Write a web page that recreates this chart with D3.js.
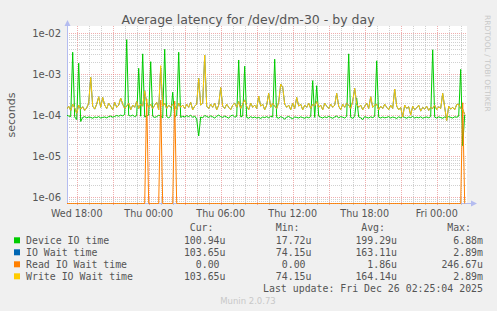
<!DOCTYPE html>
<html><head><meta charset="utf-8">
<script src="https://cdn.jsdelivr.net/npm/d3@7"></script>
<style>
html,body{margin:0;padding:0;background:#f0f0f0;}
svg{display:block;}
text{white-space:pre;}
</style></head><body>
<svg id="chart" width="497" height="311"></svg>
<script>
// ---------- data ----------
const titleText = "Average latency for /dev/dm-30 - by day";
const seriesNames = ["Device IO time", "IO Wait time", "Read IO Wait time", "Write IO Wait time"];
const seriesColors = ["#00cc00", "#0066b3", "#ff8000", "#ffcc00"];
const curLabels = ["100.94u", "103.65u", "0.00 ", "103.65u"];
const minLabels = ["17.72u", "74.15u", "0.00 ", "74.15u"];
const avgLabels = ["199.29u", "163.11u", "1.86u", "164.14u"];
const maxLabels = ["6.88m", "2.89m", "246.67u", "2.89m"];
const yTickLabels = ["1e-06", "1e-05", "1e-04", "1e-03", "1e-02"];
const yTickValues = [1e-6, 1e-5, 1e-4, 1e-3, 1e-2];
const lastUpdate = "Last update: Fri Dec 26 02:25:04 2025";
const footer = "Munin 2.0.73";
const watermark = "RRDTOOL / TOBI OETIKER";

// samples every 10 minutes starting Wed 2025-12-24 17:10 (UTC-less local clock), values in microseconds
const startTime = Date.UTC(2025, 11, 24, 17, 10);
const stepMinutes = 10;

const deviceIO = [
 100, 95, 92, 3400, 90, 78, 1840, 70, 88, 92, 86, 90, 88, 84, 90, 87, 92, 85, 88, 90,
 86, 92, 95, 89, 93, 98, 94, 100, 96, 104, 6880, 98, 95, 100, 92, 97, 1380, 94, 3100, 90,
 96, 100, 2000, 94, 88, 92, 99, 95, 86, 4000, 92, 85, 96, 360, 90, 98, 3400, 88, 94, 90,
 97, 92, 100, 88, 95, 80, 31, 90, 86, 98, 93, 88, 96, 91, 85, 94, 100, 92, 88, 95,
 90, 84, 96, 100, 89, 93, 2200, 91, 95, 1550, 88, 84, 92, 86, 90, 85, 88, 83, 90, 87,
 92, 86, 94, 90, 2300, 88, 84, 92, 87, 80, 89, 93, 86, 82, 90, 88, 85, 91, 87, 84,
 90, 86, 92, 690, 88, 520, 94, 89, 85, 91, 87, 93, 88, 84, 90, 95, 86, 92, 89, 85,
 93, 3100, 88, 84, 92, 260, 90, 86, 78, 92, 88, 85, 91, 87, 93, 2100, 89, 85, 90, 86,
 88, 92, 85, 90, 87, 83, 91, 86, 92, 88, 84, 90, 87, 93, 85, 89, 86, 91, 84, 88,
 90, 86, 92, 3900, 89, 85, 91, 87, 84, 90, 86, 92, 88, 85, 91, 89, 94, 1300, 18, 101
];
const ioWait = [
 140, 165, 130, 185, 150, 110, 175, 140, 160, 130, 150, 195, 830, 165, 140, 185, 280, 155, 270, 175,
 145, 195, 165, 135, 205, 155, 175, 260, 185, 145, 165, 195, 135, 175, 155, 215, 145, 185, 165, 390,
 200, 155, 185, 145, 175, 205, 135, 1400, 165, 195, 145, 175, 155, 185, 170, 135, 195, 155, 175, 145,
 185, 155, 205, 135, 165, 185, 780, 175, 195, 2890, 165, 145, 185, 155, 195, 135, 175, 470, 165, 145,
 185, 155, 135, 175, 195, 155, 215, 145, 185, 235, 165, 135, 195, 155, 175, 145, 290, 165, 185, 135,
 175, 340, 155, 195, 165, 145, 205, 570, 480, 185, 155, 175, 135, 195, 145, 270, 165, 185, 135, 175,
 155, 195, 145, 185, 165, 215, 155, 175, 135, 195, 165, 145, 185, 155, 175, 340, 165, 135, 185, 155,
 195, 175, 145, 215, 450, 185, 155, 175, 135, 165, 195, 145, 280, 155, 175, 185, 135, 165, 145, 185,
 155, 135, 175, 145, 430, 165, 135, 155, 90, 175, 145, 160, 100, 165, 135, 150, 175, 125, 155, 140,
 165, 130, 155, 145, 175, 135, 160, 145, 340, 155, 74, 165, 140, 155, 135, 180, 185, 145, 140, 104
];
const readWait = [
 0, 0, 0, 0, 0, 0, 0, 0, 0, 0, 0, 0, 0, 0, 0, 0, 0, 0, 0, 0,
 0, 0, 0, 0, 0, 0, 0, 0, 0, 0, 0, 0, 0, 0, 0, 0, 0, 0, 0, 0,
 247, 0, 0, 0, 0, 0, 0, 230, 0, 0, 0, 0, 0, 0, 220, 0, 0, 0, 0, 0,
 0, 0, 0, 0, 0, 0, 0, 0, 0, 0, 0, 0, 0, 0, 0, 0, 0, 0, 0, 0,
 0, 0, 0, 0, 0, 0, 0, 0, 0, 0, 0, 0, 0, 0, 0, 0, 0, 0, 0, 0,
 0, 0, 0, 0, 0, 0, 0, 0, 0, 0, 0, 0, 0, 0, 0, 0, 0, 0, 0, 0,
 0, 0, 0, 0, 0, 0, 0, 0, 0, 0, 0, 0, 0, 0, 0, 0, 0, 0, 0, 0,
 0, 0, 0, 0, 0, 0, 0, 0, 0, 0, 0, 0, 0, 0, 0, 0, 0, 0, 0, 0,
 0, 0, 0, 0, 0, 0, 0, 0, 0, 0, 0, 0, 0, 0, 0, 0, 0, 0, 0, 0,
 0, 0, 0, 0, 0, 0, 0, 0, 0, 0, 0, 0, 0, 0, 0, 0, 0, 0, 200, 0
];
const writeWait = [
 140, 165, 130, 185, 150, 110, 175, 140, 160, 130, 150, 195, 830, 165, 140, 185, 280, 155, 270, 175,
 145, 195, 165, 135, 205, 155, 175, 260, 185, 145, 165, 195, 135, 175, 155, 215, 145, 185, 165, 390,
 195, 155, 185, 145, 175, 205, 135, 1600, 165, 195, 145, 175, 155, 185, 165, 135, 195, 155, 175, 145,
 185, 155, 205, 135, 165, 185, 780, 175, 195, 2890, 165, 145, 185, 155, 195, 135, 175, 470, 165, 145,
 185, 155, 135, 175, 195, 155, 215, 145, 185, 235, 165, 135, 195, 155, 175, 145, 290, 165, 185, 135,
 175, 340, 155, 195, 165, 145, 205, 570, 480, 185, 155, 175, 135, 195, 145, 270, 165, 185, 135, 175,
 155, 195, 145, 185, 165, 215, 155, 175, 135, 195, 165, 145, 185, 155, 175, 340, 165, 135, 185, 155,
 195, 175, 145, 215, 450, 185, 155, 175, 135, 165, 195, 145, 280, 155, 175, 185, 135, 165, 145, 185,
 155, 135, 175, 145, 430, 165, 135, 155, 90, 175, 145, 160, 100, 165, 135, 150, 175, 125, 155, 140,
 165, 130, 155, 145, 175, 135, 160, 145, 340, 155, 74, 165, 140, 155, 135, 180, 185, 145, 135, 104
];
const allSeries = [deviceIO, ioWait, readWait, writeWait];

// ---------- layout ----------
const W = 497, H = 311;
const plotL = 67, plotR = 467, plotT = 26, plotB = 203;
const domainStart = new Date(Date.UTC(2025, 11, 24, 17, 11, 30));
const domainEnd = new Date(domainStart.getTime() + 400 / 12 * 3600e3);

const svg = d3.select("#chart");
svg.append("rect").attr("width", W).attr("height", H).attr("fill", "#f0f0f0");

const x = d3.scaleUtc().domain([domainStart, domainEnd]).range([plotL, plotR]);
const y = d3.scaleLog().domain([Math.pow(10, -6.14), Math.pow(10, -1.83)]).range([plotB, plotT]);

svg.append("rect").attr("x", plotL).attr("y", plotT).attr("width", plotR - plotL).attr("height", plotB - plotT).attr("fill", "#ffffff");

const grid = svg.append("g").attr("shape-rendering", "crispEdges");
const minorColor = "rgba(170,170,170,0.55)";
const majorColor = "rgba(230,120,120,0.6)";

// horizontal minor grid
const minorVals = [];
for (let d = -7; d <= -2; d++) for (let k = 2; k <= 9; k++) {
  const v = k * Math.pow(10, d);
  if (v > y.domain()[0] && v < y.domain()[1]) minorVals.push(v);
}
grid.selectAll("line.hmin").data(minorVals).join("line")
  .attr("x1", plotL).attr("x2", plotR)
  .attr("y1", d => Math.round(y(d)) + 0.5).attr("y2", d => Math.round(y(d)) + 0.5)
  .attr("stroke", minorColor).attr("stroke-dasharray", "1,1");
// vertical minor grid
const hourTicks = x.ticks(d3.utcHour.every(1));
grid.selectAll("line.vmin").data(hourTicks.filter(t => t.getUTCHours() % 3 !== 0)).join("line")
  .attr("y1", plotT).attr("y2", plotB + 3)
  .attr("x1", d => Math.round(x(d)) + 0.5).attr("x2", d => Math.round(x(d)) + 0.5)
  .attr("stroke", minorColor).attr("stroke-dasharray", "1,1");
// major grid
grid.selectAll("line.hmaj").data(yTickValues).join("line")
  .attr("x1", plotL).attr("x2", plotR)
  .attr("y1", d => Math.round(y(d)) + 0.5).attr("y2", d => Math.round(y(d)) + 0.5)
  .attr("stroke", majorColor).attr("stroke-dasharray", "1,1");
const majTicks = x.ticks(d3.utcHour.every(3));
grid.selectAll("line.vmaj").data(majTicks).join("line")
  .attr("y1", plotT).attr("y2", plotB + 3)
  .attr("x1", d => Math.round(x(d)) + 0.5).attr("x2", d => Math.round(x(d)) + 0.5)
  .attr("stroke", majorColor).attr("stroke-dasharray", "1,1");

// axes
const axisColor = "#b4bcf0";
svg.append("line").attr("x1", plotL + 0.5).attr("x2", plotL + 0.5).attr("y1", plotB + 1).attr("y2", 22)
  .attr("stroke", axisColor).attr("shape-rendering", "crispEdges");
svg.append("path").attr("d", `M${plotL - 2.5},${26} L${plotL + 3.5},${26} L${plotL + 0.5},${20} Z`).attr("fill", axisColor);
svg.append("line").attr("x1", plotL).attr("x2", 472).attr("y1", plotB + 0.5).attr("y2", plotB + 0.5)
  .attr("stroke", axisColor).attr("shape-rendering", "crispEdges");
svg.append("path").attr("d", `M${471},${plotB - 2.5} L${471},${plotB + 3.5} L${477},${plotB + 0.5} Z`).attr("fill", axisColor);

// clip
svg.append("clipPath").attr("id", "clip").append("rect")
  .attr("x", plotL).attr("y", plotT - 1).attr("width", plotR - plotL).attr("height", plotB - plotT + 2);

const tAt = i => new Date(startTime + i * stepMinutes * 60e3);
const yv = v => v > 0 ? y(v * 1e-6) : plotB + 0.5;
const line = d3.line().x((d, i) => x(tAt(i))).y(d => yv(d));
const lines = svg.append("g").attr("clip-path", "url(#clip)");
allSeries.forEach((s, k) => {
  lines.append("path").datum(s).attr("d", line)
    .attr("fill", "none").attr("stroke", seriesColors[k]).attr("stroke-width", 1);
});

// tick labels
const labelColor = "#555";
svg.append("g").selectAll("text").data(yTickValues).join("text")
  .attr("x", 61).attr("y", d => y(d) + 4)
  .attr("text-anchor", "end").attr("font-family", "DejaVu Sans").attr("font-size", 10)
  .attr("fill", labelColor).text((d, i) => yTickLabels[i]);
const fmt = d3.utcFormat("%a %H:%M");
svg.append("g").selectAll("text").data(x.ticks(d3.utcHour.every(6))).join("text")
  .attr("x", d => x(d)).attr("y", 216.5)
  .attr("text-anchor", "middle").attr("font-family", "DejaVu Sans").attr("font-size", 9.6)
  .attr("fill", labelColor).text(d => fmt(d));

// title and labels
svg.append("text").attr("x", 248).attr("y", 24).attr("text-anchor", "middle")
  .attr("font-family", "DejaVu Sans").attr("font-size", 12.5).attr("fill", "#555").text(titleText);
svg.append("text").attr("transform", "translate(15,115) rotate(-90)").attr("text-anchor", "middle")
  .attr("font-family", "DejaVu Sans").attr("font-size", 11).attr("fill", labelColor).text("seconds");
svg.append("text").attr("transform", "translate(485,15) rotate(90)").attr("text-anchor", "start")
  .attr("font-family", "DejaVu Sans").attr("font-size", 7.5).attr("fill", "#c8c8c8").text(watermark);

// legend
const mono = "DejaVu Sans Mono", fs = 9.9;
const colEnds = [225.5, 311.5, 397, 483];
const headers = ["Cur:", "Min:", "Avg:", "Max:"];
headers.forEach((h, i) => {
  svg.append("text").attr("x", colEnds[i] - 12).attr("y", 231).attr("text-anchor", "end")
    .attr("font-family", mono).attr("font-size", fs).attr("fill", labelColor).text(h);
});
const cols = [curLabels, minLabels, avgLabels, maxLabels];
seriesNames.forEach((n, r) => {
  const yy = 243.8 + r * 12;
  svg.append("rect").attr("x", 14).attr("y", yy - 6.5).attr("width", 6).attr("height", 6).attr("fill", seriesColors[r]);
  svg.append("text").attr("x", 26).attr("y", yy).attr("font-family", mono).attr("font-size", fs)
    .attr("fill", labelColor).text(n);
  cols.forEach((c, ci) => {
    svg.append("text").attr("x", colEnds[ci]).attr("y", yy).attr("text-anchor", "end")
      .attr("font-family", mono).attr("font-size", fs).attr("fill", labelColor).text(c[r]);
  });
});
svg.append("text").attr("x", 483).attr("y", 291.5).attr("text-anchor", "end")
  .attr("font-family", mono).attr("font-size", fs).attr("fill", labelColor).text(lastUpdate);
svg.append("text").attr("x", 248).attr("y", 303.5).attr("text-anchor", "middle")
  .attr("font-family", "DejaVu Sans").attr("font-size", 8.5).attr("fill", "#c8c8c8").text(footer);
</script>
</body></html>
